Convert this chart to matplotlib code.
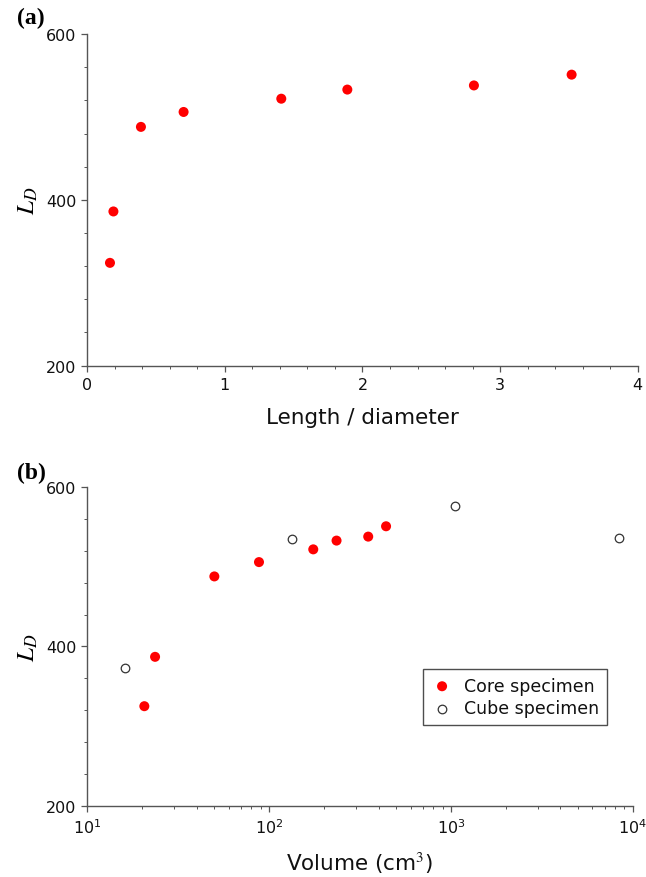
import numpy as np
import matplotlib
matplotlib.use("Agg")
import matplotlib.pyplot as plt
from matplotlib.ticker import MultipleLocator, LogLocator, NullFormatter

plt.rcParams['mathtext.fontset'] = 'stix'
plt.rcParams['font.family'] = 'DejaVu Sans'

# (a) L_D against length / diameter
ratio = [0.165, 0.19, 0.39, 0.70, 1.41, 1.89, 2.81, 3.52]
ld_ratio = [324, 386, 488, 506, 522, 533, 538, 551]

# (b) L_D against specimen volume (cm^3)
core_vol = [20.6, 23.6, 50, 88, 175, 235, 351, 440]
core_ld = [325, 387, 488, 506, 522, 533, 538, 551]
cube_vol = [16.1, 133, 1057, 8370]
cube_ld = [373, 535, 576, 536]

AXIS_COL = '#555555'
TEXT_COL = '#111111'
RED = '#ff0000'

fig = plt.figure(figsize=(6.46, 8.78), dpi=100)
ax1 = fig.add_axes([0.1351, 0.5824, 0.8520, 0.3777])
ax2 = fig.add_axes([0.1351, 0.0812, 0.8443, 0.3627])


def style(ax):
    for s in ['top', 'right']:
        ax.spines[s].set_visible(False)
    for s in ['left', 'bottom']:
        ax.spines[s].set_color(AXIS_COL)
        ax.spines[s].set_linewidth(1.0)
    ax.tick_params(which='major', direction='out', length=4, width=0.9,
                   color=AXIS_COL, labelsize=11.5, labelcolor=TEXT_COL, pad=4)
    ax.tick_params(which='minor', direction='out', length=2, width=0.7,
                   color=AXIS_COL)


# panel (a)
ax1.scatter(ratio, ld_ratio, s=52, color=RED, edgecolors='none', zorder=3)
ax1.set_xlim(0, 4)
ax1.set_ylim(200, 600)
ax1.set_xticks([0, 1, 2, 3, 4])
ax1.set_yticks([200, 400, 600])
ax1.xaxis.set_minor_locator(MultipleLocator(0.2))
ax1.yaxis.set_minor_locator(MultipleLocator(40))
style(ax1)
ax1.set_xlabel('Length / diameter', fontsize=15.5, labelpad=11, color=TEXT_COL)
ax1.set_ylabel(r'$L_D$', fontsize=18, labelpad=4)
fig.text(0.027, 0.979, '(a)', fontsize=17, fontweight='bold', family='Liberation Serif',
         ha='left', va='center')

# panel (b)
ax2.scatter(core_vol, core_ld, s=52, color=RED, edgecolors='none', zorder=3,
            label='Core specimen')
ax2.scatter(cube_vol, cube_ld, s=38, facecolors='white', edgecolors='#333333',
            linewidths=0.9, zorder=3, label='Cube specimen')
ax2.set_xscale('log')
ax2.set_xlim(10, 1e4)
ax2.set_ylim(200, 600)
ax2.set_yticks([200, 400, 600])
ax2.yaxis.set_minor_locator(MultipleLocator(40))
ax2.xaxis.set_minor_locator(LogLocator(base=10, subs=np.arange(2, 10)))
ax2.xaxis.set_minor_formatter(NullFormatter())
style(ax2)
ax2.set_xlabel(r'Volume (cm$^{3}$)', fontsize=15.5, labelpad=10, color=TEXT_COL)
ax2.set_ylabel(r'$L_D$', fontsize=18, labelpad=4)
fig.text(0.027, 0.461, '(b)', fontsize=17, fontweight='bold', family='Liberation Serif',
         ha='left', va='center')

leg = ax2.legend(loc='upper left', bbox_to_anchor=(0.6155, 0.4293), fontsize=12.5,
                 frameon=True, fancybox=False, edgecolor='#222222',
                 handletextpad=0.6, borderpad=0.45, labelspacing=0.25,
                 handlelength=1.3, borderaxespad=0)
leg.get_frame().set_linewidth(1.0)
for t in leg.get_texts():
    t.set_color(TEXT_COL)

fig.savefig('out.png', dpi=100)
